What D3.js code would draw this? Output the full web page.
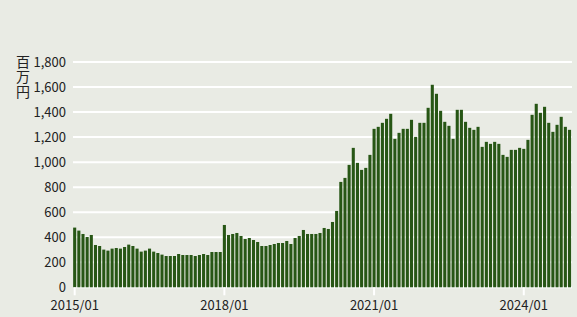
<!DOCTYPE html>
<html>
<head>
<meta charset="utf-8">
<script src="https://cdn.jsdelivr.net/npm/d3@7"></script>
<style>
  html, body { margin: 0; padding: 0; background: #ffffff; }
  #chart { width: 577px; height: 317px; }
  text { font-family: "Noto Sans CJK JP", "Noto Sans", sans-serif; fill: #222; }
</style>
</head>
<body>
<div id="chart"></div>
<script>
// monthly values, 2015/01 .. 2024/12 (百万円)
var values2015 = [477, 453, 426, 402, 418, 338, 330, 301, 293, 309, 314, 309];
var values2016 = [322, 341, 330, 309, 285, 293, 309, 285, 274, 261, 250, 250];
var values2017 = [250, 266, 258, 258, 258, 250, 258, 266, 258, 282, 282, 282];
var values2018 = [498, 418, 426, 434, 410, 386, 394, 378, 362, 330, 330, 338];
var values2019 = [346, 354, 354, 370, 346, 394, 410, 458, 426, 426, 426, 434];
var values2020 = [474, 466, 522, 610, 842, 874, 978, 1114, 994, 938, 954, 1058];
var values2021 = [1266, 1282, 1314, 1346, 1386, 1186, 1234, 1266, 1266, 1338, 1202, 1314];
var values2022 = [1314, 1434, 1618, 1546, 1410, 1322, 1290, 1186, 1418, 1418, 1322, 1274];
var values2023 = [1258, 1282, 1122, 1162, 1146, 1162, 1146, 1058, 1042, 1098, 1098, 1114];
var values2024 = [1106, 1178, 1378, 1466, 1394, 1442, 1314, 1242, 1298, 1362, 1282, 1258];

var years = [2015, 2016, 2017, 2018, 2019, 2020, 2021, 2022, 2023, 2024];
var yTicks = [0, 200, 400, 600, 800, 1000, 1200, 1400, 1600, 1800];
var xTickLabels = ["2015/01", "2018/01", "2021/01", "2024/01"];
var unitLabel = "百万円";

var width = 577;
var height = 317;

function buildData(){
  var all = [values2015, values2016, values2017, values2018, values2019,
             values2020, values2021, values2022, values2023, values2024];
  var data = [];
  for(var i=0; i<all.length; i++){
    for(var m=0; m<12; m++){
      var mm = (m+1 < 10 ? "0" : "") + (m+1);
      data.push({ month: years[i] + "/" + mm, value: all[i][m] });
    }
  }
  return data;
}

function draw(){
  var data = buildData();

  var svg = d3.select("#chart")
    .append("svg")
    .attr("width", width)
    .attr("height", height);

  svg.append("rect")
    .attr("x", 0).attr("y", 0)
    .attr("width", width).attr("height", height)
    .attr("fill", "#e9ebe4");

  var x = d3.scaleBand()
    .domain(data.map(function(d){ return d.month; }))
    .range([72.6, 571.6])
    .paddingInner(0.26)
    .paddingOuter(0.13);

  var y = d3.scaleLinear()
    .domain([0, 1800])
    .range([287.3, 62]);

  // gridlines
  svg.append("g")
    .selectAll("line")
    .data(yTicks)
    .enter()
    .append("line")
    .attr("x1", 73)
    .attr("x2", 572)
    .attr("y1", function(d){ return y(d); })
    .attr("y2", function(d){ return y(d); })
    .attr("stroke", "#ffffff")
    .attr("stroke-width", 2);

  // y tick labels
  var yAxis = d3.axisLeft(y).tickValues(yTicks).tickSize(0).tickPadding(7)
    .tickFormat(d3.format(","));
  var gy = svg.append("g").attr("transform", "translate(73,0)").call(yAxis);
  gy.select(".domain").remove();
  gy.selectAll("text").style("font-size", "13px").attr("fill", "#222");

  // bars
  svg.append("g")
    .selectAll("rect")
    .data(data)
    .enter()
    .append("rect")
    .attr("x", function(d){ return x(d.month); })
    .attr("width", x.bandwidth())
    .attr("y", function(d){ return y(d.value); })
    .attr("height", function(d){ return y(0) - y(d.value); })
    .attr("fill", "#275615");

  // x axis
  var xAxis = d3.axisBottom(x).tickValues(xTickLabels).tickSize(8).tickPadding(5);
  var gx = svg.append("g").attr("transform", "translate(0," + y(0) + ")").call(xAxis);
  gx.select(".domain").remove();
  gx.selectAll(".tick line").attr("stroke", "#ffffff").attr("stroke-width", 2);
  gx.selectAll("text").style("font-size", "13px").attr("fill", "#222");

  // unit label, vertical
  svg.append("text")
    .attr("x", 23)
    .attr("y", 55)
    .style("writing-mode", "vertical-rl")
    .style("font-size", "14px")
    .style("letter-spacing", "1px")
    .text(unitLabel);
}

window.onload = draw;
</script>
</body>
</html>
